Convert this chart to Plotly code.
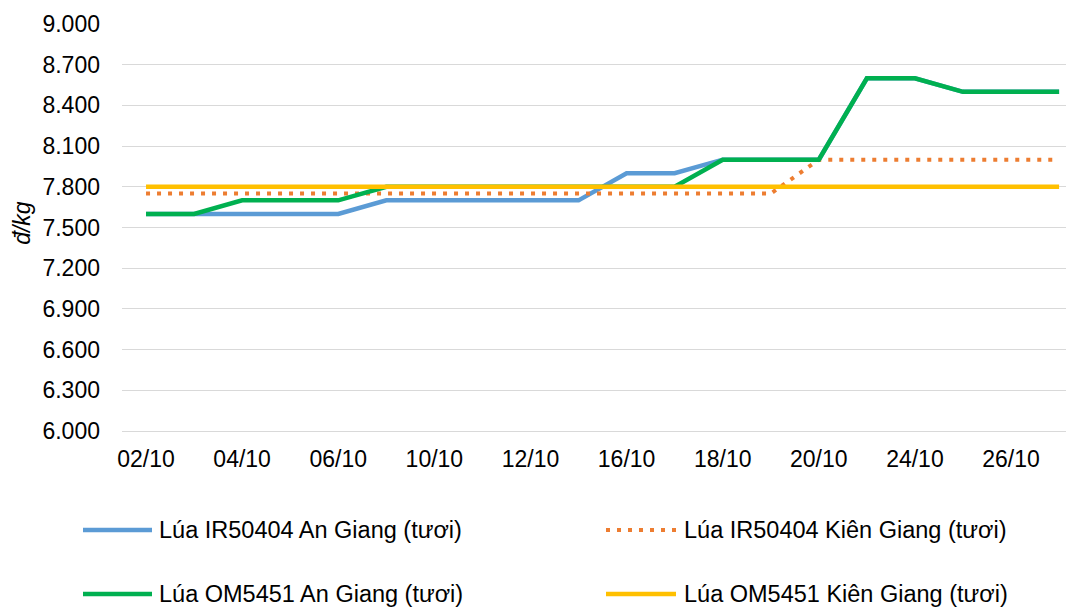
import plotly.graph_objects as go

dates = ["02/10", "03/10", "04/10", "05/10", "06/10", "09/10", "10/10", "11/10", "12/10", "13/10",
         "16/10", "17/10", "18/10", "19/10", "20/10", "23/10", "24/10", "25/10", "26/10", "27/10"]
tick_labels = ["02/10", "04/10", "06/10", "10/10", "12/10", "16/10", "18/10", "20/10", "24/10", "26/10"]

ir_angiang = [7600, 7600, 7600, 7600, 7600, 7700, 7700, 7700, 7700, 7700,
              7900, 7900, 8000, 8000, 8000, 8600, 8600, 8500, 8500, 8500]
ir_kiengiang = [7750, 7750, 7750, 7750, 7750, 7750, 7750, 7750, 7750, 7750,
                7750, 7750, 7750, 7750, 8000, 8000, 8000, 8000, 8000, 8000]
om_angiang = [7600, 7600, 7700, 7700, 7700, 7800, 7800, 7800, 7800, 7800,
              7800, 7800, 8000, 8000, 8000, 8600, 8600, 8500, 8500, 8500]
om_kiengiang = [7800] * 20

names = ["Lúa IR50404 An Giang (tươi)", "Lúa IR50404 Kiên Giang (tươi)",
         "Lúa OM5451 An Giang (tươi)", "Lúa OM5451 Kiên Giang (tươi)"]
colors = ["#5B9BD5", "#ED7D31", "#00B050", "#FFC000"]
dashes = ["solid", "4px,7px", "solid", "solid"]
widths = [4.5, 4, 4.5, 4.5]
series = [ir_angiang, ir_kiengiang, om_angiang, om_kiengiang]

FONT = "Arial, Liberation Sans, sans-serif"
fig = go.Figure()
for n, c, d, w, s in zip(names, colors, dashes, widths, series):
    fig.add_trace(go.Scatter(x=dates, y=s, name=n, mode="lines",
                             line=dict(color=c, width=w, dash=d), showlegend=False))

# the page body has an 8px margin; compensate so the screen layout matches
OFF = 8
W, H = 1074, 607
L = 122 - OFF
T = 24.3 - OFF
R = OFF
B = H - (431 - OFF)
pw = W - L - R
ph = H - T - B

def px(x):
    return (x - OFF - L) / pw

def py(y):
    return (H - B - (y - OFF)) / ph

# manual legend (2 columns x 2 rows)
leg = [(83, 152, 157, 530), (606, 676, 682, 530), (83, 152, 157, 594), (606, 676, 682, 594)]
shapes = []
annotations = []
for i, (x0, x1, xt, yy) in enumerate(leg):
    shapes.append(dict(type="line", xref="paper", yref="paper",
                       x0=px(x0), x1=px(x1), y0=py(yy), y1=py(yy),
                       line=dict(color=colors[i], width=widths[i], dash=dashes[i])))
    annotations.append(dict(xref="paper", yref="paper", x=px(xt), y=py(yy),
                            xanchor="left", yanchor="middle", showarrow=False,
                            text=names[i], font=dict(size=23.5, color="#000000", family=FONT)))

annotations.append(dict(xref="paper", yref="paper", x=px(22), y=py(223),
                        xanchor="center", yanchor="middle", showarrow=False, textangle=-90,
                        text="<i>đ/kg</i>", font=dict(size=23, color="#000000", family=FONT)))

fig.update_layout(
    width=W, height=H,
    margin=dict(l=L, r=R, t=T, b=B, autoexpand=False),
    paper_bgcolor="white", plot_bgcolor="white",
    separators=",.",
    font=dict(family=FONT, size=23, color="#000000"),
    shapes=shapes, annotations=annotations,
    xaxis=dict(type="category", categoryorder="array", categoryarray=dates,
               range=[-0.5, 19.31], tickmode="array", tickvals=tick_labels, ticktext=tick_labels,
               showgrid=False, zeroline=False, showline=True, linecolor="#D9D9D9", linewidth=1.3,
               ticks="", ticklabelstandoff=7, tickfont=dict(size=23, family=FONT, color="#000000")),
    yaxis=dict(range=[6000, 9000], tick0=6000, dtick=300, tickformat=",d",
               showgrid=True, gridcolor="#D9D9D9", gridwidth=1.3, zeroline=False,
               ticks="", ticklabelstandoff=21, tickfont=dict(size=23, family=FONT, color="#000000")),
)

fig.write_html("out.html")
